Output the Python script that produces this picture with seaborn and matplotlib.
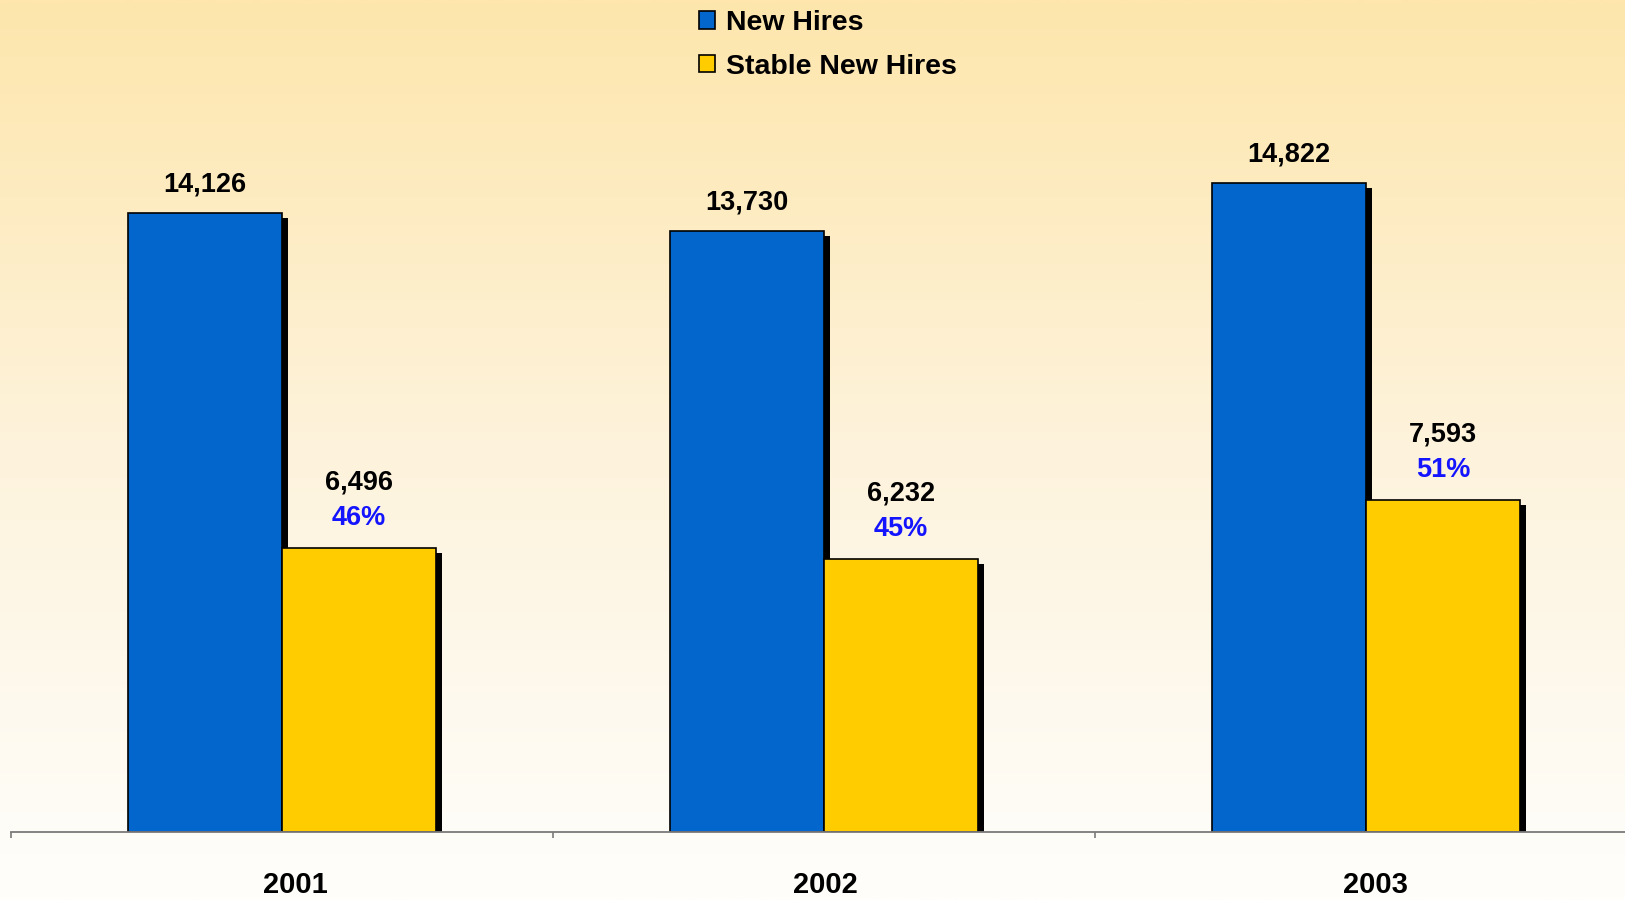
import numpy as np
import pandas as pd
import matplotlib
matplotlib.use("Agg")
import matplotlib.pyplot as plt
import matplotlib.patheffects as pe
import matplotlib.transforms as mtransforms
from matplotlib.colors import LinearSegmentedColormap
import seaborn as sns

# Data
years = ["2001", "2002", "2003"]
series = ["New Hires", "Stable New Hires"]
new_hires = [14126, 13730, 14822]
stable_new_hires = [6496, 6232, 7593]

colors = ["#0366CC", "#FFCC00"]
pct_color = "#1414FF"

df = pd.DataFrame({
    "year": years * 2,
    "series": [series[0]] * 3 + [series[1]] * 3,
    "value": new_hires + stable_new_hires,
})

sns.set_theme(style="white")
plt.rcParams["font.family"] = ["Liberation Sans", "DejaVu Sans"]
plt.rcParams["font.weight"] = "bold"
plt.rcParams["text.color"] = "black"

W, H, DPI = 1625, 900, 100
fig = plt.figure(figsize=(W / DPI, H / DPI), dpi=DPI)

# Vertical warm gradient behind everything
bg = fig.add_axes([0, 0, 1, 1], zorder=-10)
cmap = LinearSegmentedColormap.from_list(
    "warm", [(0.0, "#FEE6AC"), (0.5, "#FDF3DC"), (0.95, "#FFFDF9"), (1.0, "#FFFEFB")]
)
grad = np.linspace(0, 1, 512).reshape(-1, 1)
bg.imshow(grad, aspect="auto", cmap=cmap, extent=[0, 1, 0, 1], origin="upper")
bg.set_axis_off()

axis_y = 832
left_px, right_px = 11, 1637
ax = fig.add_axes([left_px / W, (H - axis_y) / H, (right_px - left_px) / W, axis_y / H])
ax.set_facecolor("none")

sns.barplot(
    data=df, x="year", y="value", hue="series", palette=colors,
    width=0.57, edgecolor="black", linewidth=1.2, ax=ax, legend=True,
    saturation=1,
)

shadow = [pe.SimplePatchShadow(offset=(4.3, -3.6), shadow_rgbFace="black", alpha=1.0),
          pe.Normal()]
for p in ax.patches:
    p.set_path_effects(shadow)

ax.set_xlim(-0.5, 2.5)
ax.set_ylim(0, 19000)
ax.set_xlabel("")
ax.set_ylabel("")
ax.set_yticks([])

for s in ["top", "right", "left"]:
    ax.spines[s].set_visible(False)
ax.spines["bottom"].set_color("#7A7A7A")
ax.spines["bottom"].set_linewidth(1.3)

ax.set_xticks(range(len(years)))
ax.set_xticklabels(years, fontsize=21, fontweight="bold", color="black")
ax.tick_params(axis="x", which="major", length=0, pad=28)
ax.set_xticks([-0.5, 0.5, 1.5, 2.5], minor=True)
ax.tick_params(axis="x", which="minor", bottom=True, length=4.5, width=1.2,
               color="#7A7A7A", direction="out")

# Year labels sit a little right of the group centres
label_shift_px = [13, 1, 9]
for lbl, dx in zip(ax.get_xticklabels(), label_shift_px):
    lbl.set_transform(lbl.get_transform() +
                      mtransforms.ScaledTranslation(dx / DPI, 0, fig.dpi_scale_trans))

# Value labels
containers = ax.containers
for i, bar in enumerate(containers[0]):
    x = bar.get_x() + bar.get_width() / 2
    ax.annotate(f"{new_hires[i]:,}", (x, new_hires[i]), xytext=(0, 20.5),
                textcoords="offset points", ha="center", va="center",
                fontsize=19.5, fontweight="bold", color="black")
for i, bar in enumerate(containers[1]):
    x = bar.get_x() + bar.get_width() / 2
    ax.annotate(f"{stable_new_hires[i]:,}", (x, stable_new_hires[i]), xytext=(0, 47),
                textcoords="offset points", ha="center", va="center",
                fontsize=19.5, fontweight="bold", color="black")
    pct = round(100 * stable_new_hires[i] / new_hires[i])
    ax.annotate(f"{pct}%", (x, stable_new_hires[i]), xytext=(0, 21.5),
                textcoords="offset points", ha="center", va="center",
                fontsize=19.5, fontweight="bold", color=pct_color)

# Legend
handles, labels = ax.get_legend_handles_labels()
ax.get_legend().remove()
for h in handles:
    h.set_path_effects([])
    h.set_edgecolor("black")
    h.set_linewidth(1.2)
leg = fig.legend(
    handles, labels, loc="upper left",
    bbox_to_anchor=(699 / W, 1 - 10 / H), bbox_transform=fig.transFigure,
    frameon=False, fontsize=20.5, handlelength=0.57, handleheight=0.57,
    handletextpad=0.38, labelspacing=0.62, borderpad=0, borderaxespad=0,
)
for t in leg.get_texts():
    t.set_fontweight("bold")
    t.set_color("black")

fig.savefig("out.png", dpi=DPI)
